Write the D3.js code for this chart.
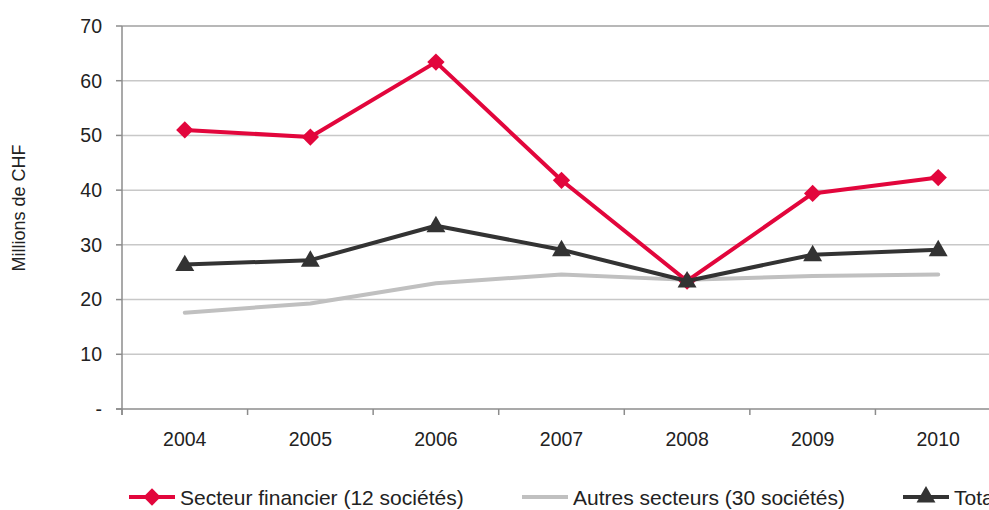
<!DOCTYPE html>
<meta charset="utf-8">
<style>
body { margin: 0; background: #fff; }
svg { display: block; font-family: "Liberation Sans", Arial, sans-serif; }
.grid line { stroke: #c8c8c8; stroke-width: 1.5; }
.axe { stroke: #8c8c8c; stroke-width: 1.5; }
.tick-label { fill: #222; font-size: 19.5px; }
.legende text { fill: #222; font-size: 21px; }
</style>
<svg width="989" height="510"></svg>
<script src="https://d3js.org/d3.v7.min.js"></script>
<script>

// données
var annees = ["2004", "2005", "2006", "2007", "2008", "2009", "2010"];
var financier = [51.0, 49.7, 63.4, 41.8, 23.4, 39.4, 42.3];
var autres = [17.6, 19.3, 23.0, 24.6, 23.6, 24.3, 24.6];
var total = [26.4, 27.2, 33.5, 29.1, 23.4, 28.2, 29.1];
var yTicks = [0, 10, 20, 30, 40, 50, 60, 70];

var series = [
  {nom: "Secteur financier (12 sociétés)", valeurs: financier, couleur: "#e2063c", marque: "diamond"},
  {nom: "Autres secteurs (30 sociétés)", valeurs: autres, couleur: "#c0c0c0", marque: null},
  {nom: "Total", valeurs: total, couleur: "#333333", marque: "triangle"}
];

var svg = d3.select("svg");

var x = d3.scaleBand().domain(annees).range([122, 1001]);
var y = d3.scaleLinear().domain([0, 70]).range([409, 26]);

// grille horizontale
svg.append("g").attr("class", "grid")
  .selectAll("line")
  .data(yTicks.filter(d => d > 0))
  .enter().append("line")
    .attr("x1", 122).attr("x2", 1001)
    .attr("y1", d => y(d)).attr("y2", d => y(d))
    .style("stroke", d => d === 70 ? "#a0a0a0" : null);

// axe Y
svg.append("line").attr("class", "axe")
  .attr("x1", 122).attr("x2", 122).attr("y1", y(70)).attr("y2", y(0) + 6);
svg.append("g").selectAll("line")
  .data(yTicks).enter().append("line").attr("class", "axe")
    .attr("x1", 116).attr("x2", 122)
    .attr("y1", d => y(d)).attr("y2", d => y(d));
svg.append("g").selectAll("text")
  .data(yTicks).enter().append("text").attr("class", "tick-label")
    .attr("x", 102).attr("y", d => y(d))
    .attr("dy", "0.35em")
    .attr("text-anchor", "end")
    .text(d => d === 0 ? "-" : d);

// axe X
svg.append("line").attr("class", "axe")
  .attr("x1", 116).attr("x2", 1001).attr("y1", y(0)).attr("y2", y(0));
svg.append("g").selectAll("line")
  .data(annees.map(a => x(a)).concat([x.range()[1]]))
  .enter().append("line").attr("class", "axe")
    .attr("x1", d => d).attr("x2", d => d)
    .attr("y1", y(0)).attr("y2", y(0) + 6);
svg.append("g").selectAll("text")
  .data(annees).enter().append("text").attr("class", "tick-label")
    .attr("x", d => x(d) + x.bandwidth() / 2)
    .attr("y", 446)
    .attr("text-anchor", "middle")
    .text(d => d);

// titre de l'axe
svg.append("text")
  .attr("transform", "translate(25,208) rotate(-90)")
  .attr("text-anchor", "middle")
  .style("font-size", "18px")
  .style("fill", "#222")
  .text("Millions de CHF");

var ligne = d3.line()
  .x((d, i) => x(annees[i]) + x.bandwidth() / 2)
  .y(d => y(d));

var symDiamant = d3.symbol().type(d3.symbolSquare).size(150);
var symTriangle = d3.symbol().type(d3.symbolTriangle).size(155);

function marque(sel, s) {
  if (s.marque === "diamond") {
    sel.attr("d", symDiamant()).attr("fill", s.couleur);
  } else {
    sel.attr("d", symTriangle()).attr("fill", s.couleur);
  }
}

[series[1], series[0], series[2]].forEach(s => {
  svg.append("path")
    .datum(s.valeurs)
    .attr("d", ligne)
    .attr("fill", "none")
    .attr("stroke", s.couleur)
    .attr("stroke-width", 4)
    .attr("stroke-linejoin", "round")
    .attr("stroke-linecap", s.marque ? "butt" : "round");
  if (s.marque) {
    svg.append("g").selectAll("path")
      .data(s.valeurs).enter().append("path")
        .each(function() { marque(d3.select(this), s); })
        .attr("transform", (d, i) => {
          var px = x(annees[i]) + x.bandwidth() / 2, py = y(d);
          return s.marque === "diamond"
            ? "translate(" + px + "," + py + ") rotate(45)"
            : "translate(" + px + "," + (py + 1) + ")";
        });
  }
});

// légende
var legX = [129, 522, 903];
var leg = svg.append("g").attr("class", "legende")
  .selectAll("g").data(series).enter().append("g")
    .attr("transform", (d, i) => "translate(" + legX[i] + ",497)");
leg.append("line")
  .attr("x1", 0).attr("x2", 46)
  .attr("stroke", d => d.couleur)
  .attr("stroke-width", 4);
leg.filter(d => d.marque).append("path")
  .each(function(d) { marque(d3.select(this), d); })
  .attr("transform", d => d.marque === "diamond" ? "translate(23,0) rotate(45)" : "translate(23,0)");
leg.append("text")
  .attr("x", 51).attr("y", 0).attr("dy", "0.36em")
  .text(d => d.nom);

</script>
